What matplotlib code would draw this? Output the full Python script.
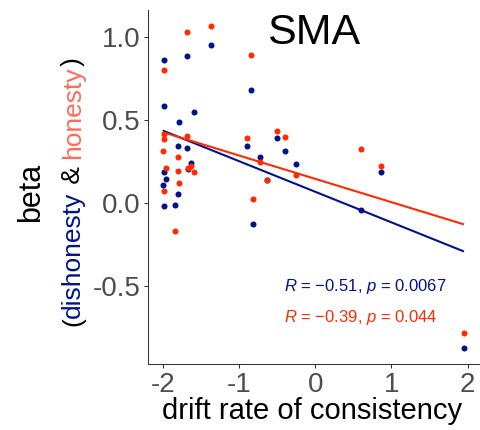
import numpy as np
import matplotlib
matplotlib.use("Agg")
import matplotlib.pyplot as plt

plt.rcParams['font.family'] = ['Liberation Sans', 'DejaVu Sans']
plt.rcParams['mathtext.fontset'] = 'custom'
plt.rcParams['mathtext.rm'] = 'Liberation Sans'
plt.rcParams['mathtext.it'] = 'Liberation Sans:italic'

# drift rate of consistency per subject (shared by both conditions)
drift = [-1.99, -1.99, -1.99, -2.00, -1.96, -1.99,
         -1.843, -1.782, -1.796, -1.796,
         -1.681, -1.685, -1.672,
         -1.625, -1.586, -1.370,
         -0.838, -0.894, -0.501, -0.392, -0.724, -0.252, -0.637, -0.814,
         0.597, 0.867, 1.951]
# SMA beta, dishonesty condition
beta_dishonesty = [0.862, 0.586, 0.188, 0.112, 0.144, -0.018,
                   -0.012, 0.488, 0.346, 0.054,
                   0.882, 0.332, 0.206,
                   0.242, 0.546, 0.950,
                   0.682, 0.342, 0.390, 0.314, 0.278, 0.234, 0.140, -0.126,
                   -0.044, 0.190, -0.870]
# SMA beta, honesty condition
beta_honesty = [0.798, 0.416, 0.388, 0.312, 0.214, 0.070,
                -0.166, 0.122, 0.280, 0.196,
                1.026, 0.402, 0.214,
                0.224, 0.188, 1.064,
                0.888, 0.390, 0.434, 0.398, 0.248, 0.172, 0.140, 0.024,
                0.324, 0.224, -0.782]

x_ticks = [-2, -1, 0, 1, 2]
x_ticklabels = ["-2", "-1", "0", "1", "2"]
y_ticks = [-0.5, 0.0, 0.5, 1.0]
y_ticklabels = ["-0.5", "0.0", "0.5", "1.0"]
stat_dishonesty = r"$R$ = −0.51, $p$ = 0.0067"
stat_honesty = r"$R$ = −0.39, $p$ = 0.044"

BLUE = "#00138A"
RED = "#FF2A00"
SALMON = "#FF6B5B"
W, H = 480, 430

fig = plt.figure(figsize=(W / 100, H / 100), dpi=100)
ax = fig.add_axes([147.7 / W, 1 - 364 / H, (479 - 147.7) / W, (364 - 10) / H])

x = np.array(drift)
yb = np.array(beta_dishonesty)
yr = np.array(beta_honesty)

ax.scatter(x, yb, s=19, color=BLUE, linewidths=0, zorder=3)
ax.scatter(x, yr, s=19, color=RED, linewidths=0, zorder=3)

xs = np.array([x.min(), x.max()])
for yy, c in [(yb, BLUE), (yr, RED)]:
    k, b = np.polyfit(x, yy, 1)
    ax.plot(xs, k * xs + b, color=c, lw=1.5, zorder=4, solid_capstyle='butt')

# ggplot-style 5% expansion
xr = x.max() - x.min()
ax.set_xlim(x.min() - 0.05 * xr, x.max() + 0.05 * xr)
allv = np.concatenate([yb, yr])
yrng = allv.max() - allv.min()
ax.set_ylim(allv.min() - 0.05 * yrng, allv.max() + 0.05 * yrng)

ax.set_xticks(x_ticks)
ax.set_xticklabels(x_ticklabels)
ax.set_yticks(y_ticks)
ax.set_yticklabels(y_ticklabels)
ax.tick_params(axis='both', length=3, width=0.75, color='#333333',
               labelsize=20, labelcolor='#4D4D4D')
ax.tick_params(axis='y', pad=2)
ax.tick_params(axis='x', pad=3)
for side in ['top', 'right']:
    ax.spines[side].set_visible(False)
for side in ['left', 'bottom']:
    ax.spines[side].set_color('#333333')
    ax.spines[side].set_linewidth(0.75)

def fx(px):
    return px / W

def fy(py):
    return 1 - py / H

# title inside panel
fig.text(fx(314), fy(43.5), "SMA", fontsize=31, ha='center', va='baseline', color='black')

# correlation labels
fig.text(fx(284), fy(290.7), stat_dishonesty, fontsize=12, color=BLUE, ha='left', va='baseline')
fig.text(fx(284), fy(322.3), stat_honesty, fontsize=12, color=RED, ha='left', va='baseline')

# x label
fig.text(fx(312), fy(419), "drift rate of consistency", fontsize=21, ha='center', va='baseline')

# y label, first line
fig.text(fx(39), fy(192), "beta", fontsize=22, rotation=90, rotation_mode='anchor',
         ha='center', va='baseline')

# y label, second line with coloured words
pieces = [("(", "black"), ("dishonesty", BLUE), (" & ", "black"),
          ("honesty", SALMON), (")", "black")]
fs2 = 19
fig.canvas.draw()
renderer = fig.canvas.get_renderer()

def str_len(s):
    t = fig.text(0, 0, s + "|", fontsize=fs2)
    t2 = fig.text(0, 0, "|", fontsize=fs2)
    w = t.get_window_extent(renderer).width - t2.get_window_extent(renderer).width
    t.remove()
    t2.remove()
    return w

full = "".join(p for p, _ in pieces)
total = str_len(full)
start_py = 192 + total / 2
prefix = ""
for s, c in pieces:
    off = str_len(prefix) if prefix else 0.0
    fig.text(fx(80), fy(start_py - off), s, fontsize=fs2, color=c, rotation=90,
             rotation_mode='anchor', ha='left', va='baseline')
    prefix += s

fig.savefig("out.png", dpi=100)
